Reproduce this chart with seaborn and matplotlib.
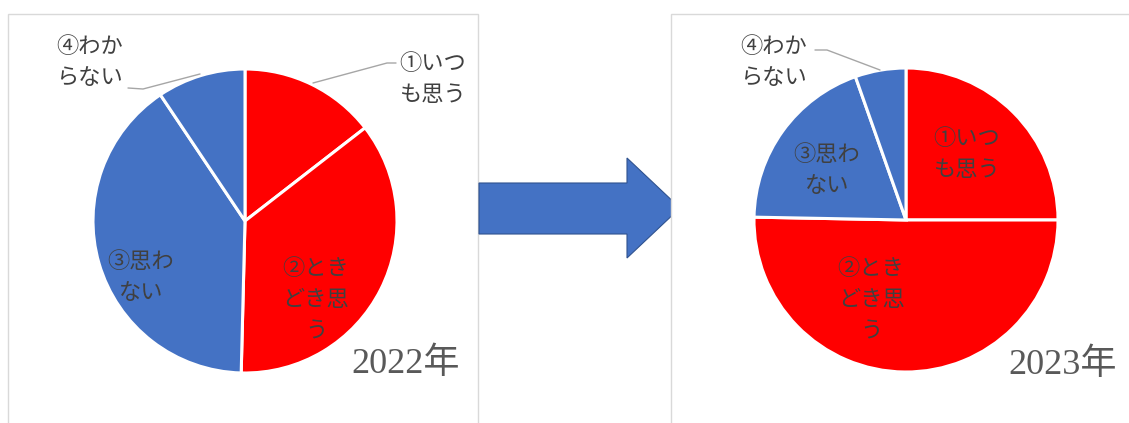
import matplotlib
matplotlib.use("Agg")
import matplotlib.pyplot as plt
import matplotlib.patches as mpatches
import seaborn as sns

sns.set_theme(style="white")
plt.rcParams["font.family"] = ["Noto Sans CJK JP", "DejaVu Sans"]

# survey answers, share of respondents (%)
categories = ["①いつも思う", "②ときどき思う", "③思わない", "④わからない"]
share_2022 = [14.5, 35.9, 40.2, 9.4]
share_2023 = [25.0, 50.3, 19.3, 5.4]
years = ["2022年", "2023年"]
colors = ["#FF0000", "#FF0000", "#4472C4", "#4472C4"]

W, H = 1129, 423
fig = plt.figure(figsize=(W / 100, H / 100), dpi=100)

# background layer in pixel coords: panel frames and the arrow
bg = fig.add_axes([0, 0, 1, 1])
bg.set_xlim(0, W)
bg.set_ylim(H, 0)
bg.axis("off")
bg.add_patch(mpatches.Rectangle((8, 14), 470, 420, fc="white", ec="#d9d9d9", lw=1, zorder=1))
arrow = mpatches.Polygon([(479, 183), (627, 183), (627, 158), (680, 208),
                          (627, 258), (627, 234), (479, 234)],
                         closed=True, fc="#4472C4", ec="#2F528F", lw=0.8, zorder=2)
bg.add_patch(arrow)
bg.add_patch(mpatches.Rectangle((671, 14), 470, 420, fc="white", ec="#d9d9d9", lw=1, zorder=3))

R = 152

for (cx, cy), vals in zip([(245, 221), (906, 220)], [share_2022, share_2023]):
    ax = fig.add_axes([(cx - R) / W, (H - cy - R) / H, 2 * R / W, 2 * R / H])
    ax.pie(vals, colors=colors, startangle=90, counterclock=False, radius=1,
           wedgeprops=dict(edgecolor="white", linewidth=2.2))
    # pie() widens the limits itself, so pin them to the wedge radius afterwards
    ax.set_xlim(-1, 1)
    ax.set_ylim(-1, 1)
    ax.axis("off")

# top layer: labels, leader lines and year captions
top = fig.add_axes([0, 0, 1, 1])
top.set_xlim(0, W)
top.set_ylim(H, 0)
top.axis("off")
top.patch.set_alpha(0)

lab_kw = dict(ha="center", va="center", multialignment="center", fontsize=16,
              color="#404040", linespacing=1.45)

# 2022
top.text(433, 79, "①いつ\nも思う", **lab_kw)
top.text(316, 300, "②とき\nどき思\nう", **lab_kw)
top.text(141, 277, "③思わ\nない", **lab_kw)
top.text(90, 62, "④わか\nらない", **lab_kw)
top.plot([313, 387, 396], [83, 63, 63], color="#a6a6a6", lw=1)
top.plot([128, 143, 200], [88, 89, 74], color="#a6a6a6", lw=1)

# 2023
top.text(967, 154, "①いつ\nも思う", **lab_kw)
top.text(871, 300, "②とき\nどき思\nう", **lab_kw)
top.text(827, 170, "③思わ\nない", **lab_kw)
top.text(774, 62, "④わか\nらない", **lab_kw)
top.plot([815, 827, 880], [50, 50, 70], color="#a6a6a6", lw=1)

yr_kw = dict(ha="center", va="center", fontsize=26, color="#595959",
             family=["Liberation Serif", "Noto Sans CJK JP"])
top.text(406, 364, years[0], **yr_kw)
top.text(1063, 365, years[1], **yr_kw)

fig.savefig("out.png", dpi=100)
